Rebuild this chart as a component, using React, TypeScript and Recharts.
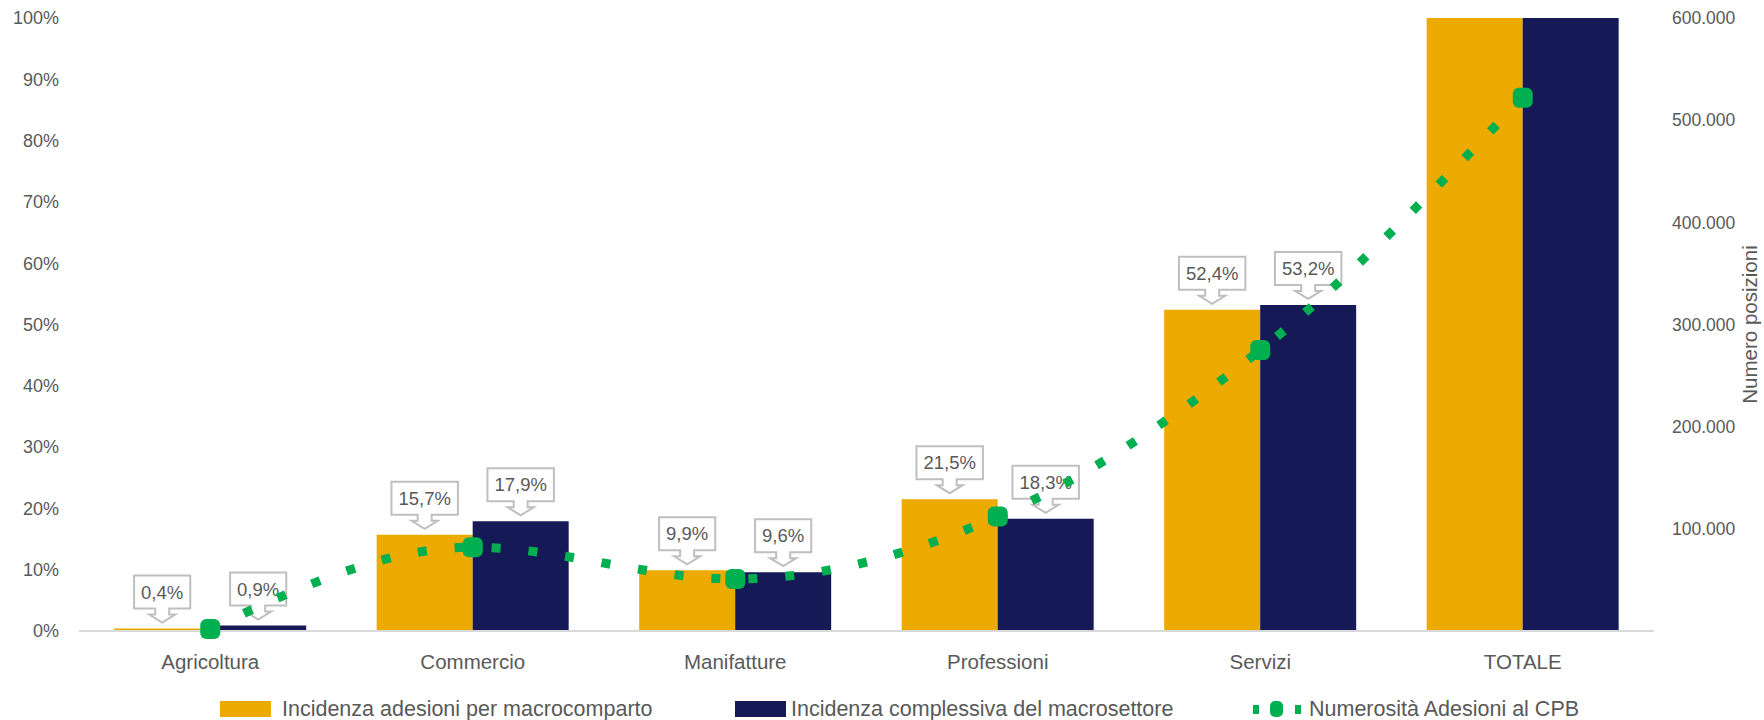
import React from "react"
import { Bar, ComposedChart, Label, LabelList, Legend, Line, XAxis, YAxis } from "recharts"

const categories = ["Agricoltura", "Commercio", "Manifatture", "Professioni", "Servizi", "TOTALE"]
const incidenzaMacrocomparto = [0.4, 15.7, 9.9, 21.5, 52.4, 100]
const incidenzaMacrosettore = [0.9, 17.9, 9.6, 18.3, 53.2, 100]
const numerositaAdesioni = [2000, 82000, 51000, 112000, 275000, 522000]
const percentTicks = [0, 10, 20, 30, 40, 50, 60, 70, 80, 90, 100]
const countTicks = [0, 100000, 200000, 300000, 400000, 500000, 600000]

const FONT = '"Liberation Sans", Arial, sans-serif'
const TEXT = "#595959"
const YELLOW = "#EDAA00"
const NAVY = "#151A56"
const GREEN = "#00B050"

const chartData = categories.map((name, i) => ({
  name,
  macrocomparto: incidenzaMacrocomparto[i],
  macrosettore: incidenzaMacrosettore[i],
  numerosita: numerositaAdesioni[i],
}))

const formatCount = (v: number) =>
  v === 0 ? "" : String(v).replace(/\B(?=(\d{3})+(?!\d))/g, ".")

// larghezza approssimata del testo (metriche Arial)
const textWidth = (s: string, size: number) => {
  let w = 0
  for (const c of s) w += c === "," || c === "." ? 0.278 : c === "%" ? 0.889 : 0.556
  return w * size
}

// etichetta a fumetto con freccia verso il basso
const Callout = (props: any) => {
  const { x, y, width, value, index } = props
  if (categories[index] === "TOTALE" || value >= 100) return null
  const cx = x + width / 2
  const text = `${Number(value).toFixed(1).replace(".", ",")}%`
  const half = textWidth(text, 18.5) / 2 + 7
  const tip = y - 6
  const head = y - 14
  const boxB = y - 20
  const boxT = y - 53
  const d = `M${cx - half},${boxT} H${cx + half} V${boxB} H${cx + 7} V${head} H${cx + 13} L${cx},${tip} L${cx - 13},${head} H${cx - 7} V${boxB} H${cx - half} Z`
  return (
    <g>
      <path d={d} fill="#fff" stroke="#BFBFBF" strokeWidth={2} />
      <text
        x={cx}
        y={(boxT + boxB) / 2}
        dy="0.355em"
        textAnchor="middle"
        fontSize={18.5}
        fontFamily={FONT}
        fill={TEXT}
      >
        {text}
      </text>
    </g>
  )
}

const MarkerDot = (props: any) => {
  const { cx, cy } = props
  if (cx == null || cy == null) return null
  return <rect x={cx - 10} y={cy - 10} width={20} height={20} rx={6} fill={GREEN} />
}

const CustomLegend = () => {
  const textStyle: React.CSSProperties = {
    position: "absolute",
    top: 0,
    lineHeight: "30px",
    fontSize: 21.5,
    fontFamily: FONT,
    color: TEXT,
    whiteSpace: "nowrap",
  }
  return (
    <div style={{ position: "relative", width: 1764, height: 30 }}>
      <div style={{ position: "absolute", left: 220, top: 7, width: 51, height: 16, background: YELLOW }} />
      <span style={{ ...textStyle, left: 282 }}>Incidenza adesioni per macrocomparto</span>
      <div style={{ position: "absolute", left: 735, top: 7, width: 51, height: 16, background: NAVY }} />
      <span style={{ ...textStyle, left: 791 }}>Incidenza complessiva del macrosettore</span>
      <svg style={{ position: "absolute", left: 1250, top: 0 }} width={55} height={30}>
        <rect x={3} y={11} width={6} height={9} fill={GREEN} />
        <rect x={20} y={7} width={13} height={16} rx={5} fill={GREEN} />
        <rect x={45} y={11} width={6} height={9} fill={GREEN} />
      </svg>
      <span style={{ ...textStyle, left: 1309 }}>Numerosità Adesioni al CPB</span>
    </div>
  )
}

export default function App() {
  return (
    <div style={{ position: "absolute", left: 0, top: 0, width: 1764, height: 720, background: "#fff" }}>
      <ComposedChart
        width={1764}
        height={720}
        data={chartData}
        margin={{ top: 18, right: 0, bottom: 9, left: 0 }}
        barCategoryGap="13.4%"
        barGap={0}
      >
        <XAxis
          dataKey="name"
          height={50}
          tickSize={0}
          tickLine={false}
          tickMargin={23}
          axisLine={{ stroke: "#D9D9D9", strokeWidth: 2 }}
          tick={{ fontSize: 20.5, fontFamily: FONT, fill: TEXT }}
        />
        <YAxis
          yAxisId="left"
          width={79}
          domain={[0, 100]}
          ticks={percentTicks}
          tickFormatter={(v: number) => `${v}%`}
          axisLine={false}
          tickLine={false}
          tickSize={0}
          tickMargin={20}
          tick={{ fontSize: 18, fontFamily: FONT, fill: TEXT }}
        />
        <YAxis
          yAxisId="right"
          orientation="right"
          width={110}
          domain={[0, 600000]}
          ticks={countTicks}
          tickFormatter={formatCount}
          axisLine={false}
          tickLine={false}
          tickSize={0}
          tickMargin={18}
          tick={{ fontSize: 17.5, fontFamily: FONT, fill: TEXT }}
        >
          <Label
            content={(p: any) => {
              const vb = p.viewBox
              const lx = vb.x + vb.width - 7
              const ly = vb.y + vb.height / 2
              return (
                <text
                  x={lx}
                  y={ly}
                  transform={`rotate(-90, ${lx}, ${ly})`}
                  textAnchor="middle"
                  fontSize={20.5}
                  fontFamily={FONT}
                  fill={TEXT}
                >
                  Numero posizioni
                </text>
              )
            }}
          />
        </YAxis>
        <Legend
          verticalAlign="bottom"
          content={<CustomLegend />}
          wrapperStyle={{ position: "absolute", left: 0, top: 694, bottom: "auto", width: 1764, height: 30 }}
        />
        <Bar
          yAxisId="left"
          dataKey="macrocomparto"
          name="Incidenza adesioni per macrocomparto"
          fill={YELLOW}
          isAnimationActive={false}
        >
          <LabelList dataKey="macrocomparto" content={<Callout />} />
        </Bar>
        <Bar
          yAxisId="left"
          dataKey="macrosettore"
          name="Incidenza complessiva del macrosettore"
          fill={NAVY}
          isAnimationActive={false}
        >
          <LabelList dataKey="macrosettore" content={<Callout />} />
        </Bar>
        <Line
          yAxisId="right"
          type="monotone"
          dataKey="numerosita"
          name="Numerosità Adesioni al CPB"
          stroke={GREEN}
          strokeWidth={9}
          strokeDasharray="9 28"
          dot={<MarkerDot />}
          activeDot={false}
          isAnimationActive={false}
          {...({ zIndex: 2100 } as any)}
        />
      </ComposedChart>
    </div>
  )
}
